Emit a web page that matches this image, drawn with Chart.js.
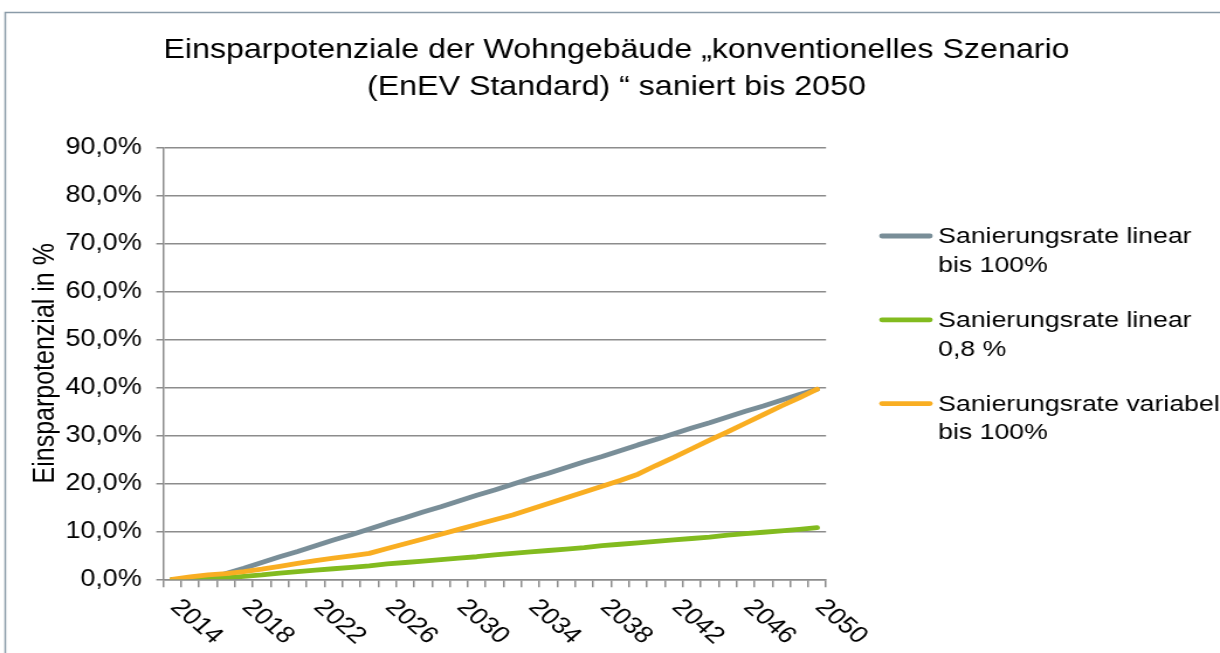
<!DOCTYPE html>
<html>
<head>
<meta charset="utf-8">
<title>Einsparpotenziale der Wohngebäude</title>
<script src="https://cdn.jsdelivr.net/npm/chart.js@4"></script>
<style>
  body { margin: 0; background: #fff; }
  /* the reference picture is stretched sideways, so the canvas is too */
  #chart { transform: scaleX(1.1697); transform-origin: 0 0; }
</style>
</head>
<body>
<canvas id="chart" width="1043" height="653"></canvas>
<script>
// years on the x axis, one point per year
const years = ['2014','2015','2016','2017','2018','2019','2020','2021','2022','2023','2024','2025',
               '2026','2027','2028','2029','2030','2031','2032','2033','2034','2035','2036','2037',
               '2038','2039','2040','2041','2042','2043','2044','2045','2046','2047','2048','2049','2050'];
const xTickLabels = ['2014','2018','2022','2026','2030','2034','2038','2042','2046','2050'];
const yTicks = [0, 10, 20, 30, 40, 50, 60, 70, 80, 90];

// Einsparpotenzial in % per year
const linear100 = [0, 0, 0, 1.2, 2.3, 3.5, 4.7, 5.8, 7.0, 8.2, 9.3, 10.5, 11.7, 12.8, 14.0, 15.1, 16.3, 17.5,
                   18.6, 19.8, 21.0, 22.1, 23.3, 24.5, 25.6, 26.8, 28.0, 29.1, 30.3, 31.5, 32.6, 33.8, 35.0,
                   36.1, 37.3, 38.5, 39.6];
const linear08 = [0, 0, 0, 0.3, 0.6, 0.9, 1.3, 1.6, 1.9, 2.2, 2.5, 2.8, 3.2, 3.5, 3.8, 4.1, 4.4, 4.7,
                  5.1, 5.4, 5.7, 6.0, 6.3, 6.6, 7.0, 7.3, 7.6, 7.9, 8.2, 8.5, 8.8, 9.2, 9.5, 9.8, 10.1,
                  10.4, 10.75];
const variabel100 = [0, 0.5, 0.9, 1.2, 1.6, 2.1, 2.7, 3.3, 3.9, 4.4, 4.9, 5.4, 6.4, 7.4, 8.4, 9.4, 10.4,
                     11.4, 12.4, 13.4, 14.6, 15.8, 17.0, 18.2, 19.4, 20.6, 21.9, 23.7, 25.4, 27.2, 29.0,
                     30.7, 32.5, 34.3, 36.1, 37.8, 39.6];

const seriesNames = [
    ['Sanierungsrate linear', 'bis 100%'],
    ['Sanierungsrate linear', '0,8 %'],
    ['Sanierungsrate variabel', 'bis 100%']
];
const seriesColors = ['#798e98', '#82bb1f', '#f9ae22'];

const FONT = '"Liberation Sans", Arial, sans-serif';
const GRID = '#8c8c8c';
Chart.defaults.font.family = FONT;
Chart.defaults.color = '#000';

// grey frame round the whole chart
const frame = {
    id: 'frame',
    beforeDraw(chart) {
        const ctx = chart.ctx;
        ctx.save();
        ctx.strokeStyle = '#8a9ba8';
        ctx.lineWidth = 1.5;
        ctx.strokeRect(4.5, 12.5, chart.width + 20, chart.height + 20);
        ctx.restore();
    }
};

// year labels, turned down to the right like in the picture
const yearLabels = {
    id: 'yearLabels',
    afterDraw(chart) {
        const ctx = chart.ctx;
        const xScale = chart.scales.x;
        ctx.save();
        ctx.font = '23.5px ' + FONT;
        ctx.fillStyle = '#000';
        ctx.textAlign = 'left';
        ctx.textBaseline = 'middle';
        xTickLabels.forEach(label => {
            const x = xScale.getPixelForValue(years.indexOf(label)) + 2;
            const y = chart.chartArea.bottom + 24;
            ctx.save();
            ctx.translate(x, y);
            ctx.rotate(Math.PI / 4);
            ctx.fillText(label, 0, 0);
            ctx.restore();
        });
        ctx.restore();
    }
};

// legend on the right, two lines per entry
const sideLegend = {
    id: 'sideLegend',
    afterDraw(chart) {
        const ctx = chart.ctx;
        ctx.save();
        ctx.font = '22.8px ' + FONT;
        ctx.textAlign = 'left';
        ctx.textBaseline = 'middle';
        chart.data.datasets.forEach((ds, i) => {
            const y = 236 + i * 83.8;
            ctx.strokeStyle = ds.borderColor;
            ctx.lineWidth = 4.8;
            ctx.lineCap = 'round';
            ctx.beginPath();
            ctx.moveTo(754, y);
            ctx.lineTo(795, y);
            ctx.stroke();
            ctx.fillStyle = '#000';
            ds.label.forEach((line, j) => ctx.fillText(line, 802, y + 1 + j * 28.5));
        });
        ctx.restore();
    }
};

function createChart() {
    const canvas = document.getElementById('chart');
    const datasets = [linear100, linear08, variabel100].map((values, i) => ({
        label: seriesNames[i],
        data: values,
        borderColor: seriesColors[i],
        backgroundColor: seriesColors[i],
        borderWidth: 4.8,
        borderCapStyle: 'round',
        borderJoinStyle: 'round',
        pointRadius: 0,
        tension: 0,
        order: 2 - i            // orange on top, like the picture
    }));

    new Chart(canvas, {
        type: 'line',
        data: { labels: years, datasets: datasets },
        options: {
            responsive: false,
            animation: false,
            layout: { padding: { left: 11, right: 0, top: 0, bottom: 0 } },
            scales: {
                x: {
                    type: 'category',
                    offset: true,
                    grid: {
                        offset: true,
                        drawOnChartArea: false,
                        tickLength: 8,
                        color: GRID,
                        lineWidth: 1.5
                    },
                    border: { color: GRID, width: 1.5 },
                    ticks: { display: false, autoSkip: false },
                    afterFit: s => { s.height = 73.7; }
                },
                y: {
                    min: 0,
                    max: 90,
                    afterBuildTicks: s => { s.ticks = yTicks.map(v => ({ value: v })); },
                    grid: { color: GRID, lineWidth: 1.5, tickLength: 6 },
                    border: { color: GRID, width: 1.5 },
                    ticks: {
                        padding: 12.5,
                        font: { size: 23 },
                        callback: v => v.toFixed(1).replace('.', ',') + '%'
                    },
                    title: {
                        display: true,
                        text: 'Einsparpotenzial in %',
                        font: { size: 25 },
                        padding: { top: 13, bottom: 0 }
                    },
                    afterFit: s => { s.width = 128.6; }
                },
                // empty space on the right for the legend
                legendSpace: {
                    type: 'linear',
                    position: 'right',
                    grid: { display: false },
                    border: { display: false },
                    ticks: { display: false },
                    afterFit: s => { s.width = 336.8; }
                }
            },
            plugins: {
                legend: { display: false },
                tooltip: { enabled: false },
                title: {
                    display: true,
                    text: ['Einsparpotenziale der Wohngebäude „konventionelles Szenario',
                           '(EnEV Standard) “ saniert bis 2050'],
                    font: { size: 27.5, weight: 'normal', lineHeight: 1.35 },
                    color: '#000',
                    padding: { top: 32, bottom: 41 }
                }
            }
        },
        plugins: [frame, yearLabels, sideLegend]
    });
}

createChart();
</script>
</body>
</html>
